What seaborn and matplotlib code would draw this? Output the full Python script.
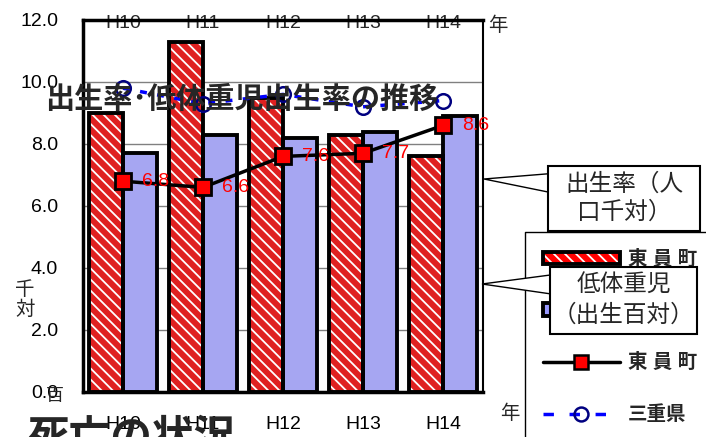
import numpy as np
import pandas as pd
import seaborn as sns
import matplotlib.pyplot as plt
from matplotlib.patches import Rectangle, Polygon, Patch
from matplotlib.lines import Line2D
from matplotlib.ticker import FormatStrFormatter

# 年度
years = ['H10', 'H11', 'H12', 'H13', 'H14']
# 出生率（人口千対）
birth_toin = [9.0, 11.3, 9.5, 8.3, 7.6]
birth_mie = [7.7, 8.3, 8.2, 8.4, 8.9]
# 低体重児出生率（出生百対）
lbw_toin = [6.8, 6.6, 7.6, 7.7, 8.6]
lbw_mie = [9.8, 9.3, 9.6, 9.2, 9.4]

W, H = 706, 437


def fx(x, y):
    # pixel position -> figure fraction
    return (x / W, 1 - y / H)


df = pd.DataFrame({
    '年': years * 2,
    '出生率': birth_toin + birth_mie,
    '地域': ['東員町'] * 5 + ['三重県'] * 5,
})

sns.set_style('white')
plt.rcParams['font.family'] = ['Liberation Sans', 'Noto Sans CJK JP']
plt.rcParams['hatch.linewidth'] = 1.3

fig = plt.figure(figsize=(W / 100, H / 100), dpi=100)
ax = fig.add_axes([83 / W, 45 / H, 400 / W, 372 / H])

sns.barplot(data=df, x='年', y='出生率', hue='地域', palette=['red', '#9999ff'],
            width=0.84, gap=0, edgecolor='black', linewidth=2.8,
            legend=False, ax=ax, zorder=2)

# hatched red bars with black outline
for p in list(ax.patches[:5]):
    ax.add_patch(Rectangle(p.get_xy(), p.get_width(), p.get_height(),
                           fill=False, ec='black', lw=2.8, zorder=2.5))
    p.set_edgecolor('white')
    p.set_linewidth(0)
    p.set_hatch('\\\\\\')

# 低体重児 lines
sns.pointplot(x=years, y=lbw_mie, color='blue', markers='o', linestyles='--',
              errorbar=None, ax=ax, zorder=4)
l_mie = ax.lines[-1]
l_mie.set_linewidth(2.5)
l_mie.set_dashes((2, 3))
l_mie.set_markersize(10.5)
l_mie.set_markerfacecolor('none')
l_mie.set_markeredgecolor('#000080')
l_mie.set_markeredgewidth(1.8)

sns.pointplot(x=years, y=lbw_toin, color='black', markers='s', linestyles='-',
              errorbar=None, ax=ax, zorder=5)
l_toin = ax.lines[-1]
l_toin.set_linewidth(2.5)
l_toin.set_markersize(11)
l_toin.set_markerfacecolor('red')
l_toin.set_markeredgecolor('black')
l_toin.set_markeredgewidth(2)

for i, v in enumerate(lbw_toin):
    ax.annotate(f'{v:.1f}', (i, v), xytext=(14, 0), textcoords='offset points',
                color='red', fontsize=14, ha='left', va='center', zorder=6)

ax.set_xlim(-0.5, 4.5)
ax.set_ylim(0, 12)
ax.set_yticks(np.arange(0, 12.1, 2))
ax.yaxis.set_major_formatter(FormatStrFormatter('%.1f'))
ax.yaxis.grid(True, color='#808080', lw=1)
ax.set_axisbelow(True)
ax.set_xlabel('')
ax.set_ylabel('')
ax.tick_params(axis='y', length=0, pad=18, labelsize=14, labelcolor='black')
ax.tick_params(axis='x', length=0, pad=17, labelsize=14, labelcolor='black')
for side, lw in [('left', 2.5), ('bottom', 2.5), ('top', 2.5), ('right', 1.5)]:
    ax.spines[side].set_color('black')
    ax.spines[side].set_linewidth(lw)

sec = ax.secondary_xaxis('top')
sec.set_xticks(range(len(years)), years)
sec.tick_params(length=0, pad=-9, labelsize=14)
sec.spines['top'].set_visible(False)

# legend (frame runs off the right and bottom edges)
handles = [
    (Patch(facecolor='red', edgecolor='white', hatch='\\\\\\', lw=0),
     Patch(fill=False, edgecolor='black', lw=2.8)),
    Patch(facecolor='#9999ff', edgecolor='black', lw=2.8),
    Line2D([], [], color='black', lw=2.5, marker='s', mfc='red', mec='black', ms=10, mew=1.8),
    Line2D([], [], color='blue', lw=2.5, dashes=(3, 4.5), marker='o', mfc='none',
           mec='#000080', ms=10, mew=1.8),
]
labels = ['東 員 町', '三重県', '東 員 町', '三重県']
leg = fig.legend(handles, labels, loc='upper left', bbox_to_anchor=fx(525, 232),
                 bbox_transform=fig.transFigure, borderaxespad=0,
                 prop={'size': 14, 'weight': 'bold'},
                 handlelength=4.0, handleheight=0.6, handletextpad=0.4,
                 labelspacing=1.7, borderpad=0.9, frameon=False)
leg.set_zorder(5)
fig.add_artist(Line2D([525 / W, 525 / W, 1], [0, 1 - 232 / H, 1 - 232 / H],
                      color='black', lw=1, transform=fig.transFigure, zorder=5))


def callout(tip, box_x, box_y, box_w, box_h, lines):
    y0 = box_y + box_h * 0.12
    y1 = box_y + box_h * 0.4
    fig.add_artist(Polygon([fx(*tip), fx(box_x, y0), fx(box_x, y1)], closed=True,
                           facecolor='white', edgecolor='black', lw=1,
                           transform=fig.transFigure, zorder=7))
    bx, by = fx(box_x, box_y + box_h)
    fig.add_artist(Rectangle((bx, by), box_w / W, box_h / H, facecolor='white',
                             edgecolor='black', lw=1.5, transform=fig.transFigure,
                             zorder=8))
    n = len(lines)
    for k, t in enumerate(lines):
        cy = box_y + box_h * (k + 0.5) / n + (2 if k == 0 else -2)
        fig.text(*fx(box_x + box_w / 2, cy), t, ha='center', va='center',
                 fontsize=17, zorder=9)


callout((484, 179), 548, 166, 152, 65, ['出生率（人', '口千対）'])
callout((482, 284), 550, 267, 147, 67, ['低体重児', '（出生百対）'])

fig.text(*fx(45, 100), '出生率･低体重児出生率の推移', fontsize=21, fontweight='bold',
         ha='left', va='center', zorder=10)
fig.text(*fx(488, 26), '年', fontsize=14, ha='left', va='center')
fig.text(*fx(510, 414), '年', fontsize=14, ha='center', va='center')
fig.text(*fx(25, 300), '千\n対', fontsize=14, ha='center', va='center', linespacing=1.1)
fig.text(*fx(55, 397), '百', fontsize=13, ha='center', va='center')
fig.text(*fx(27, 419), '死亡の状況', fontsize=30, fontweight='bold', ha='left',
         va='top', zorder=10)

fig.savefig('out.png', dpi=100)
